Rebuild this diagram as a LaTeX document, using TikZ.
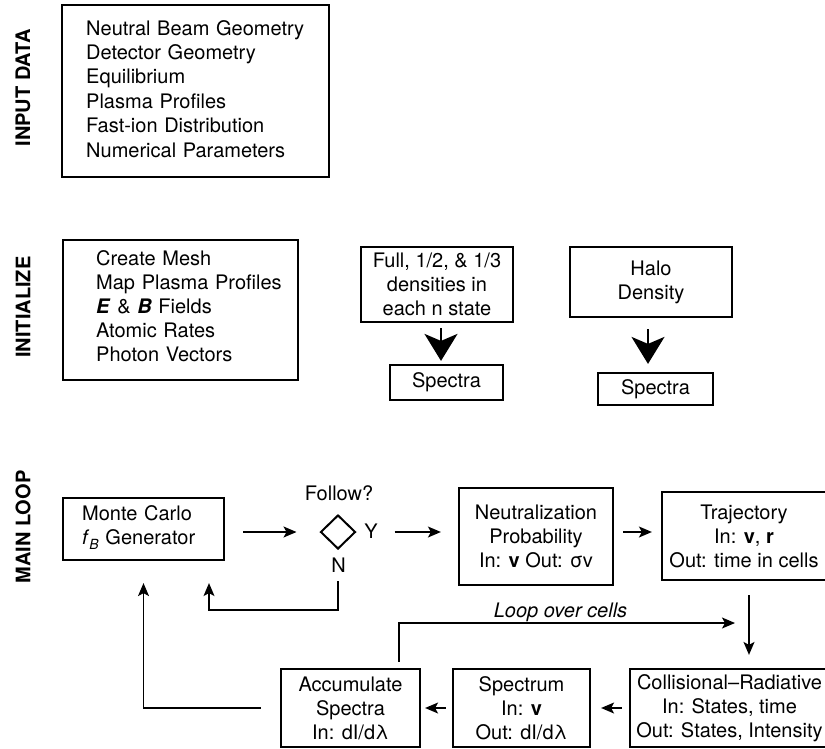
\documentclass[tikz,border=0pt]{standalone}
\usepackage{fontspec}
\setmainfont{TeX Gyre Heros}
\usetikzlibrary{arrows.meta,shapes.geometric}
\begin{document}
\begin{tikzpicture}[x=1pt,y=-1pt,
  txt/.style={font=\fontsize{20}{24}\selectfont, inner sep=0pt},
  box/.style={draw, line width=2.2pt, txt, align=center, inner sep=0pt},
  conn/.style={line width=1.3pt, -{Stealth[length=13pt,width=11pt,inset=3pt]}},
  bigarr/.style={line width=2pt, -{Stealth[length=27pt,width=33pt,inset=7pt]}},
  lab/.style={font=\bfseries\fontsize{20}{24}\selectfont, rotate=90, inner sep=0pt}]
\useasboundingbox (0,0) rectangle (825,748);

% ---------- INPUT DATA ----------
\node[lab] (lin) at (23,88) {INPUT DATA};
\node[box, minimum width=267pt, minimum height=172pt] (input) at (195.5,91) {};
\node[txt, font=\fontsize{20}{24.4}\selectfont, anchor=base west, text width=230pt, align=left] (inputtxt) at (86,35)
  {Neutral Beam Geometry\\Detector Geometry\\Equilibrium\\Plasma Profiles\\Fast-ion Distribution\\Numerical Parameters};

% ---------- INITIALIZE ----------
\node[lab] (lini) at (23,307) {INITIALIZE};
\node[box, minimum width=235pt, minimum height=140pt] (init) at (180.5,310) {};
\node[txt, anchor=base west, text width=200pt, align=left] (inittxt) at (96,265)
  {Create Mesh\\Map Plasma Profiles\\\textbf{\textit{E}} \& \textbf{\textit{B}} Fields\\Atomic Rates\\Photon Vectors};

\node[box, minimum width=152pt, minimum height=75pt] (full) at (437,284.5) {Full, 1/2, \& 1/3\\densities in\\each n state};
\node[box, minimum width=113pt, minimum height=35pt] (spec1) at (446.5,382.5) {Spectra};
\node[box, minimum width=162pt, minimum height=70pt] (halo) at (651,282) {Halo\\Density};
\node[box, minimum width=115pt, minimum height=32pt] (spec2) at (655.5,389) {Spectra};

\coordinate (c1) at (441,0);
\coordinate (c2) at (648,0);
\draw[bigarr, shorten <=5pt, shorten >=3pt] (full.south -| c1) -- (spec1.north -| c1);
\draw[bigarr, shorten <=11pt, shorten >=8pt] (halo.south -| c2) -- (spec2.north -| c2);

% ---------- MAIN LOOP ----------
\node[lab] (lmain) at (23,527) {MAIN LOOP};
\node[box, minimum width=161pt, minimum height=62pt] (mc) at (143.5,529) {};
\node[txt, anchor=base west, text width=150pt, align=left] (mctxt) at (82,520)
  {Monte Carlo\\\textit{f}\raisebox{-5pt}{\fontsize{14}{14}\selectfont\textit{B}} Generator};

\node[draw, shape=diamond, line width=2pt, minimum width=35pt, minimum height=34pt, inner sep=0pt] (dia) at (338,532) {};
\node[txt, anchor=base] (follow) at (339,500) {Follow?};
\node[txt, anchor=base] (ylab) at (371,538) {Y};
\node[txt, anchor=base] (nlab) at (338.5,572) {N};

\node[box, minimum width=154pt, minimum height=97pt] (neut) at (536,536.5) {Neutralization\\Probability\\In: \textbf{v} Out: σv};
\node[box, minimum width=164pt, minimum height=88pt] (traj) at (744,536) {Trajectory\\In: \textbf{v}, \textbf{r}\\Out: time in cells};
\node[box, minimum width=199pt, minimum height=78pt] (coll) at (729.5,708) {Collisional–Radiative\\In: States, time\\Out: States, Intensity};
\node[box, minimum width=137pt, minimum height=78pt] (spec) at (521.5,708) {Spectrum\\In: \textbf{v}\\Out: dI/dλ};
\node[box, minimum width=139pt, minimum height=78pt] (acc) at (350.5,708) {Accumulate\\Spectra\\In: dI/dλ};
\node[txt, font=\itshape\fontsize{20}{24}\selectfont, anchor=base] (loop) at (560.5,617) {Loop over cells};

% connectors
\coordinate (c3) at (0,532);
\coordinate (c4) at (749,0);
\coordinate (c5) at (399,623);
\coordinate (c6) at (735,623);
\coordinate (c7) at (209,610);
\draw[conn, shorten <=18pt, shorten >=23pt] (mc.east |- dia.west) -- (dia.west);
\draw[conn, shorten <=38pt, shorten >=17pt] (dia.east) -- (neut.west |- dia.east);
\draw[conn, shorten <=9pt, shorten >=9pt] (neut.east |- c3) -- (traj.west |- c3);
\draw[conn, shorten <=14pt, shorten >=13pt] (traj.south -| c4) -- (coll.north -| c4);
\draw[conn, shorten <=7pt, shorten >=10pt] (coll.west) -- (spec.east);
\draw[conn, shorten <=6pt, shorten >=4pt] (spec.west) -- (acc.east);
\draw[conn, shorten <=6pt] (acc.north -| c5) -- (c5) -- (c6);
\draw[conn, shorten <=19pt, shorten >=22pt] (acc.west) -| (mc.south);
\draw[conn, line width=1.1pt, shorten <=31pt, shorten >=22pt] (dia.south) |- (c7) -- (c7 |- mc.south);
\end{tikzpicture}
\end{document}
